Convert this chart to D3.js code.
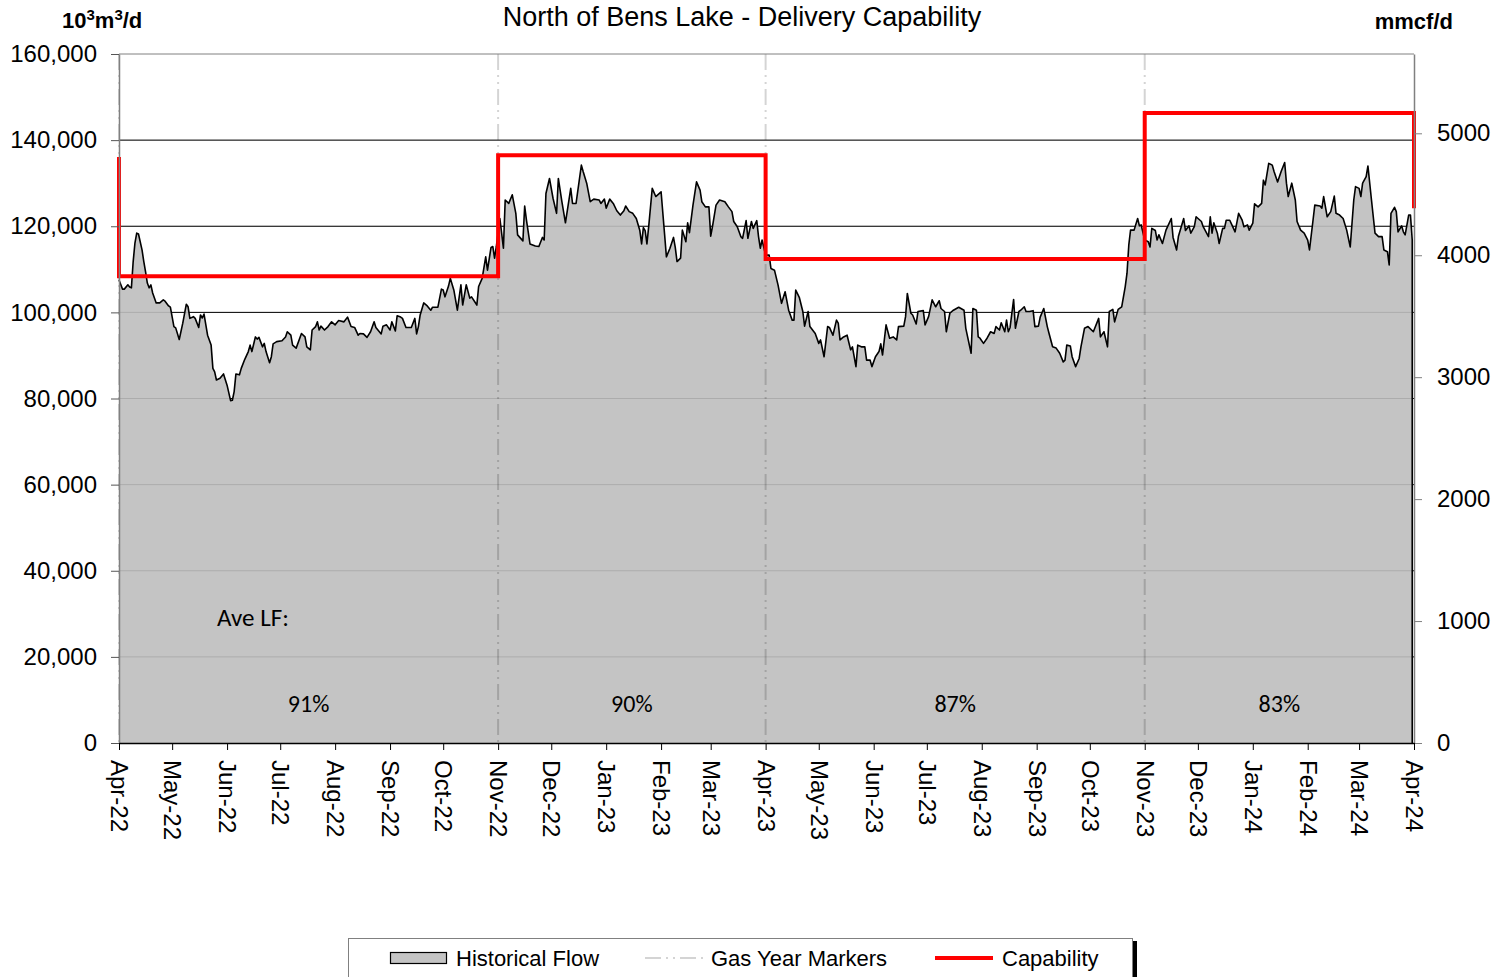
<!DOCTYPE html>
<html>
<head>
<meta charset="utf-8">
<script src="https://cdn.jsdelivr.net/npm/d3@7"></script>
<style>
  body { margin: 0; background: #fff; }
  svg { display: block; font-family: "Liberation Sans", Arial, sans-serif; }
</style>
</head>
<body>
<div id="chart"></div>
<script>
// North of Bens Lake - delivery capability vs historical flow

// Historical flow, days since 2022-04-01 and 10^3 m3/d
const flowDay = [
  0, 2, 3, 5, 6, 7, 8, 9, 10, 11, 13, 14, 15, 16, 17, 18, 19, 21, 23, 25, 26, 28, 29, 31, 32, 34, 36, 38, 39, 40,
  42, 43, 45, 46, 47, 48, 50, 52, 53, 54, 55, 57, 59, 61, 63, 64, 65, 66, 68, 69, 71, 73, 74, 75, 77, 78, 79, 81,
  82, 83, 85, 86, 87, 89, 92, 94, 95, 97, 98, 100, 103, 105, 106, 108, 109, 111, 112, 113, 114, 116, 118, 120,
  122, 124, 127, 129, 131, 133, 135, 136, 138, 140, 142, 144, 145, 148, 149, 151, 153, 154, 156, 157, 159, 160,
  162, 165, 167, 168, 169, 170, 172, 174, 176, 177, 180, 182, 183, 184, 186, 187, 189, 191, 193, 194, 196, 198,
  199, 202, 203, 205, 207, 208, 210, 211, 212, 213, 215, 217, 218, 220, 222, 224, 225, 228, 229, 230, 232, 235,
  237, 239, 240, 241, 243, 245, 247, 248, 250, 252, 255, 256, 258, 261, 262, 264, 266, 268, 271, 272, 274, 275,
  277, 279, 281, 283, 285, 286, 288, 290, 292, 294, 295, 296, 297, 298, 299, 301, 303, 306, 308, 309, 311, 313,
  314, 315, 317, 318, 320, 321, 322, 324, 326, 328, 329, 331, 333, 334, 335, 337, 339, 342, 344, 346, 347, 349,
  351, 352, 354, 355, 357, 358, 360, 361, 362, 363, 365, 367, 368, 370, 372, 374, 376, 378, 380, 381, 382, 384,
  386, 387, 389, 390, 393, 395, 396, 398, 400, 401, 403, 405, 406, 407, 409, 411, 413, 414, 416, 417, 419, 421,
  422, 424, 425, 427, 429, 430, 431, 433, 435, 437, 439, 440, 443, 444, 445, 447, 448, 450, 451, 454, 455, 457,
  459, 461, 463, 464, 466, 467, 469, 471, 474, 477, 478, 481, 482, 484, 485, 486, 488, 490, 492, 494, 495, 497,
  498, 500, 501, 502, 503, 505, 506, 508, 509, 511, 512, 514, 516, 517, 519, 520, 522, 524, 525, 527, 529, 531,
  533, 534, 535, 537, 538, 540, 542, 543, 545, 547, 550, 553, 554, 556, 558, 559, 561, 562, 564, 566, 568, 569,
  570, 571, 573, 575, 576, 577, 579, 581, 582, 583, 585, 586, 587, 589, 591, 594, 595, 597, 598, 601, 602, 604,
  605, 607, 608, 611, 612, 615, 616, 617, 618, 620, 621, 623, 624, 625, 627, 628, 630, 632, 634, 635, 637, 638,
  640, 641, 643, 645, 646, 647, 649, 651, 652, 654, 656, 658, 659, 660, 662, 664, 665, 667, 669, 671, 672, 674,
  675, 678, 679, 680, 682, 684, 686, 687, 689, 691, 693, 695, 697, 698, 700, 701, 702, 704, 705, 707, 709, 711,
  713, 714, 716, 717, 718, 720, 721, 722, 724, 725, 726, 728, 729, 730
];
const flowValue = [
  107500, 105400, 105400, 106400, 105900, 105700, 111800, 116100, 118400, 118200, 114500, 111800, 109400, 106800,
  105700, 106400, 104500, 102200, 102200, 102900, 102600, 101500, 101200, 96700, 96400, 93700, 97500, 101900,
  101300, 98600, 99000, 98600, 96500, 99400, 98700, 99600, 94700, 92400, 87000, 86200, 84300, 84700, 85700,
  83100, 79500, 79600, 81600, 85700, 85500, 87000, 89100, 90900, 92400, 90900, 94300, 93800, 94200, 92000,
  92800, 90900, 88300, 89700, 92700, 93200, 93400, 94300, 95500, 94700, 92400, 91700, 95100, 94300, 92000,
  91300, 95900, 96700, 97800, 95900, 96800, 95900, 96700, 97800, 97100, 98100, 97800, 98900, 96700, 96500,
  94700, 95100, 95000, 94200, 95500, 97800, 96500, 95000, 96800, 97100, 95900, 97800, 95700, 99200, 98900,
  98600, 96500, 96500, 98600, 95000, 96700, 99400, 102200, 101500, 100500, 101200, 101200, 105400, 105200,
  103600, 106100, 107900, 105200, 100500, 106400, 101700, 106400, 103300, 103600, 101700, 106000, 107900,
  112900, 109800, 115100, 115300, 112600, 115300, 121800, 114900, 126100, 125300, 127300, 123000, 118000,
  116600, 124700, 121400, 115900, 115400, 115300, 117400, 116800, 127600, 131100, 126500, 123000, 131100,
  125700, 120800, 128800, 125300, 125300, 134200, 132700, 130000, 125700, 126300, 126100, 125300, 126300,
  124200, 126300, 125300, 123600, 122600, 123600, 124700, 123400, 123000, 121800, 119000, 115900, 119700,
  119000, 115900, 119900, 128800, 126900, 128000, 118000, 112900, 114900, 117400, 115100, 111800, 112600,
  119100, 116400, 120800, 118500, 124900, 130300, 128400, 125700, 124500, 124500, 117700, 119900, 124900,
  126100, 125700, 124500, 123400, 121100, 119900, 117600, 117200, 121300, 117200, 121100, 119500, 121300,
  117600, 114900, 116800, 113300, 113300, 110200, 109800, 106400, 102100, 104800, 100500, 98200, 98200,
  105200, 103500, 100200, 96800, 100200, 96700, 95100, 92800, 93600, 89700, 96700, 96500, 94700, 98200,
  97500, 93600, 94300, 94700, 91300, 92000, 87400, 92400, 92000, 92000, 88900, 88900, 87400, 89700, 90900,
  92700, 90100, 97100, 94000, 94300, 93600, 96700, 96800, 99000, 104400, 99800, 99400, 97300, 100200, 100400,
  97100, 99000, 102900, 101300, 102700, 100900, 100200, 95500, 99800, 100500, 101200, 100500, 96300, 90500,
  100900, 100500, 94300, 94000, 92800, 94000, 95500, 95100, 96700, 95900, 97600, 95500, 98200, 95500, 96500,
  103000, 96300, 100200, 100500, 101300, 100200, 100200, 100400, 96700, 96800, 98900, 100900, 96700, 95100,
  92000, 91700, 90500, 88500, 88900, 92400, 92200, 89700, 87400, 89300, 92000, 96300, 96700, 95500, 98600,
  94300, 95500, 92000, 100200, 100700, 97800, 100700, 101300, 106000, 109100, 115600, 119100, 119100, 121800,
  120100, 120300, 116800, 116400, 115200, 119500, 119000, 116800, 118000, 116000, 119100, 121800, 117400,
  114500, 117600, 121800, 119000, 120100, 118400, 119900, 122200, 121100, 119900, 117600, 122200, 118400,
  120800, 118400, 116000, 119500, 119500, 121400, 121400, 120500, 118700, 123000, 121400, 119900, 120300,
  119100, 120700, 125200, 124500, 125300, 130700, 129600, 134600, 134200, 132700, 130300, 132700, 134800,
  130000, 126900, 130000, 126100, 121100, 119100, 118400, 116800, 114500, 121400, 124900, 124700, 124200,
  126900, 122200, 123400, 127000, 123000, 122600, 121800, 119100, 115200, 126100, 129200, 128800, 126900,
  130000, 131500, 134000, 126100, 118400, 117600, 117600, 114500, 114100, 111000, 123000, 124400, 123400,
  118700, 120100, 118700, 118000, 122600, 122600, 116800
];

// Capability (step), 10^3 m3/d
const capDates = ["2022-04-01", "2022-04-01", "2022-11-01", "2023-04-01", "2023-11-01", "2024-04-01"];
const capValues = [136100, 108400, 136500, 112400, 146300, 124200];

// Gas years and average load factors
const gasYearMarkers = ["2022-04-01", "2022-11-01", "2023-04-01", "2023-11-01"];
const periodBounds = ["2022-04-01", "2022-11-01", "2023-04-01", "2023-11-01", "2024-04-01"];
const lfLabels = ["91%", "90%", "87%", "83%"];

const leftTicks = [0, 20000, 40000, 60000, 80000, 100000, 120000, 140000, 160000];
const rightTicks = [0, 1000, 2000, 3000, 4000, 5000];
const m3PerMmcf = 28.317;

const parseDate = d3.timeParse("%Y-%m-%d");
const startDate = parseDate("2022-04-01");
const endDate = parseDate("2024-04-01");

const flow = flowDay.map((d, i) => ({ date: d3.timeDay.offset(startDate, d), value: flowValue[i] }));
const cap = capDates.map((d, i) => ({ date: parseDate(d), value: capValues[i] }));

const margin = { left: 119, right: 90, top: 54, bottom: 234 };
const W = 1504, H = 977;
const width = W - margin.left - margin.right;
const height = H - margin.top - margin.bottom;

const svg = d3.select("#chart").append("svg").attr("width", W).attr("height", H);
svg.append("rect").attr("width", W).attr("height", H).attr("fill", "#fff");

const g = svg.append("g").attr("transform", "translate(" + margin.left + "," + margin.top + ")");

// Scales
const x = d3.scaleTime().domain([startDate, endDate]).range([0, width]);
const y = d3.scaleLinear().domain([0, 160000]).range([height, 0]);
const y2 = d3.scaleLinear().domain([0, 160000 / m3PerMmcf]).range([height, 0]);

// Gridlines under the area
const gridVals = leftTicks.filter(v => v > 0 && v < 160000);
g.selectAll(".grid").data(gridVals).enter().append("line")
  .attr("x1", 0).attr("x2", width)
  .attr("y1", d => y(d)).attr("y2", d => y(d))
  .attr("stroke", "#000").attr("stroke-width", 1);

// Area
const area = d3.area().x(d => x(d.date)).y0(height).y1(d => y(d.value));
g.append("path").datum(flow).attr("d", area).attr("fill", "#c4c4c4");

// Gridlines shown faintly through the area
g.selectAll(".grid2").data(gridVals).enter().append("line")
  .attr("x1", 0).attr("x2", width)
  .attr("y1", d => y(d)).attr("y2", d => y(d))
  .attr("stroke", "#000").attr("stroke-opacity", 0.12).attr("stroke-width", 1);

// Gas year markers
g.selectAll(".marker").data(gasYearMarkers).enter().append("line")
  .attr("x1", d => x(parseDate(d))).attr("x2", d => x(parseDate(d)))
  .attr("y1", 0).attr("y2", height)
  .attr("stroke", "#000").attr("stroke-opacity", 0.17).attr("stroke-width", 2)
  .attr("stroke-dasharray", "16,5,2,5,2,5");

// Flow line
const line = d3.line().x(d => x(d.date)).y(d => y(d.value));
g.append("path").datum(flow).attr("d", line)
  .attr("fill", "none").attr("stroke", "#000").attr("stroke-width", 1.6).attr("stroke-linejoin", "round");
const last = flow[flow.length - 1];
g.append("line")
  .attr("x1", x(last.date)).attr("x2", x(last.date))
  .attr("y1", y(last.value)).attr("y2", height)
  .attr("stroke", "#000").attr("stroke-width", 1.6);

// Capability
const capLine = d3.line().curve(d3.curveStepAfter).x(d => x(d.date)).y(d => y(d.value));
g.append("path").datum(cap).attr("d", capLine)
  .attr("fill", "none").attr("stroke", "#ff0000").attr("stroke-width", 4);

// Frame
g.append("line").attr("x1", 0).attr("x2", width).attr("y1", 0).attr("y2", 0).attr("stroke", "#808080");

// Axes
const yAxis = g.append("g")
  .call(d3.axisLeft(y).tickValues(leftTicks).tickFormat(d3.format(",")).tickSize(8).tickSizeOuter(0).tickPadding(14));
yAxis.select(".domain").attr("stroke", "#808080").attr("stroke-width", 1.5);
yAxis.selectAll(".tick line").attr("stroke", "#555");
yAxis.selectAll("text").attr("font-size", "24px").attr("fill", "#000");

const y2Axis = g.append("g").attr("transform", "translate(" + width + ",0)")
  .call(d3.axisRight(y2).tickValues(rightTicks).tickFormat(d3.format("d")).tickSize(8).tickSizeOuter(0).tickPadding(15));
y2Axis.select(".domain").attr("stroke", "#808080").attr("stroke-width", 1.5);
y2Axis.selectAll(".tick line").attr("stroke", "#808080");
y2Axis.selectAll("text").attr("font-size", "24px").attr("fill", "#000");

const xAxis = g.append("g").attr("transform", "translate(0," + height + ")")
  .call(d3.axisBottom(x).ticks(d3.timeMonth.every(1)).tickFormat(d3.timeFormat("%b-%y")).tickSize(7).tickSizeOuter(0));
xAxis.select(".domain").attr("stroke", "#000").attr("stroke-width", 1.5);
xAxis.selectAll(".tick line").attr("stroke", "#000");
xAxis.selectAll("text")
  .attr("font-size", "24px").attr("fill", "#000")
  .attr("text-anchor", "start")
  .attr("transform", "rotate(90)")
  .attr("x", 17).attr("y", 0).attr("dy", ".35em");

// Titles
svg.append("text").attr("x", 742).attr("y", 26).attr("text-anchor", "middle")
  .attr("font-size", "27px").text("North of Bens Lake - Delivery Capability");

const unitL = svg.append("text").attr("x", 62).attr("y", 28).attr("font-size", "22px").attr("font-weight", "bold");
unitL.append("tspan").text("10");
unitL.append("tspan").attr("font-size", "15px").attr("dy", -8).text("3");
unitL.append("tspan").attr("dy", 8).text("m");
unitL.append("tspan").attr("font-size", "15px").attr("dy", -8).text("3");
unitL.append("tspan").attr("dy", 8).text("/d");

svg.append("text").attr("x", 1453).attr("y", 29).attr("text-anchor", "end")
  .attr("font-size", "22px").attr("font-weight", "bold").text("mmcf/d");

// Load factor annotations
const lfFont = "Carlito, Lato, sans-serif";
g.append("text").attr("x", 217 - margin.left).attr("y", 626 - margin.top)
  .attr("font-family", lfFont).attr("font-size", "25px").text("Ave LF:");
g.selectAll(".lf").data(lfLabels).enter().append("text")
  .attr("x", (d, i) => (x(parseDate(periodBounds[i])) + x(parseDate(periodBounds[i + 1]))) / 2)
  .attr("y", 712 - margin.top)
  .attr("text-anchor", "middle")
  .attr("font-family", lfFont).attr("font-size", "24px").text(d => d);

// Legend
const lg = svg.append("g");
lg.append("rect").attr("x", 1133).attr("y", 941).attr("width", 4).attr("height", 40).attr("fill", "#000");
lg.append("rect").attr("x", 348.5).attr("y", 938.5).attr("width", 784).attr("height", 50)
  .attr("fill", "#fff").attr("stroke", "#808080");
lg.append("rect").attr("x", 390.5).attr("y", 952.5).attr("width", 56).attr("height", 11)
  .attr("fill", "#c4c4c4").attr("stroke", "#000").attr("stroke-width", 1.2);
lg.append("text").attr("x", 456).attr("y", 966).attr("font-size", "22px").text("Historical Flow");
lg.append("line").attr("x1", 645).attr("x2", 703).attr("y1", 958).attr("y2", 958)
  .attr("stroke", "#000").attr("stroke-opacity", 0.17).attr("stroke-width", 2)
  .attr("stroke-dasharray", "16,5,2,5,2,5");
lg.append("text").attr("x", 711).attr("y", 966).attr("font-size", "22px").text("Gas Year Markers");
lg.append("line").attr("x1", 935).attr("x2", 993).attr("y1", 958).attr("y2", 958)
  .attr("stroke", "#ff0000").attr("stroke-width", 4);
lg.append("text").attr("x", 1002).attr("y", 966).attr("font-size", "22px").text("Capability");
</script>
</body>
</html>
